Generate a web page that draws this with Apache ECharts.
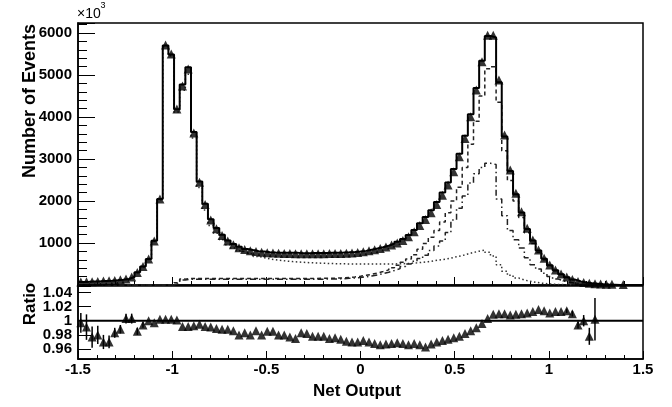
<!DOCTYPE html>
<html><head><meta charset="utf-8">
<script src="https://cdn.jsdelivr.net/npm/echarts@6/dist/echarts.min.js"></script>
<style>html,body{margin:0;padding:0;background:#fff}#c{width:672px;height:407px}</style>
</head><body><div id="c"></div>
<script>
// ---- binning ----
const binStart = -1.5, binWidth = 0.03, nBins = 100;
// ---- axis ticks ----
const xTickLabels = [-1.5, -1, -0.5, 0, 0.5, 1, 1.5];
const yTopMax = 6240;
// ---- data (triangles, top panel) ----
const dataEvents = [
  70, 75, 80, 85, 95, 100, 110, 125, 145, 190,
  300, 440, 620, 1050, 2050, 5714, 5500, 4190, 4738, 5143,
  3619, 2450, 1920, 1550, 1340, 1180, 1050, 960, 890, 845,
  815, 795, 780, 768, 760, 755, 750, 748, 746, 745,
  745, 745, 745, 746, 748, 750, 753, 757, 763, 772,
  790, 815, 840, 870, 905, 950, 1000, 1060, 1150, 1270,
  1420, 1560, 1720, 1920, 2140, 2380, 2698, 3056, 3492, 4008,
  4643, 5317, 5950, 5950, 4880, 3571, 2738, 2183, 1746, 1349,
  1071, 833, 635, 476, 357, 262, 190, 130, 85, 60,
  42, 30, 22, 18, 15, null, 12, null, null, null
];
// ---- ratio data/MC (bottom panel) ----
const ratioVals = [
  0.997, 0.991, 0.977, 0.980, 0.970, 0.970, 0.983, 0.988, 1.003, 1.003,
  0.985, 0.994, 1.000, 0.997, 1.002, 1.002, 1.002, 1.001, 0.992, 0.992,
  0.993, 0.995, 0.992, 0.991, 0.989, 0.988, 0.988, 0.986, 0.980, 0.983,
  0.980, 0.986, 0.980, 0.985, 0.985, 0.980, 0.980, 0.977, 0.975, 0.983,
  0.982, 0.978, 0.978, 0.978, 0.975, 0.976, 0.974, 0.971, 0.970, 0.970,
  0.972, 0.970, 0.968, 0.966, 0.967, 0.968, 0.969, 0.968, 0.966, 0.968,
  0.966, 0.963, 0.967, 0.970, 0.972, 0.974, 0.976, 0.978, 0.982, 0.986,
  0.990, 0.996, 1.003, 1.009, 1.010, 1.010, 1.008, 1.009, 1.010, 1.011,
  1.013, 1.016, 1.014, 1.011, 1.013, 1.013, 1.014, 1.010, 0.994, 1.000,
  0.978, 1.002, null, null, null, null, null, null, null, null
];
const ratioErr = [
  0.014, 0.018, 0.015, 0.013, 0.010, 0.009, 0.007, 0.006, 0.007, 0.007,
  0.005, 0.004, 0, 0, 0, 0, 0, 0, 0, 0,
  0, 0, 0, 0, 0, 0, 0, 0, 0, 0,
  0, 0, 0, 0, 0, 0, 0, 0, 0, 0,
  0, 0, 0, 0, 0, 0, 0, 0, 0, 0,
  0, 0, 0, 0, 0, 0, 0, 0, 0, 0,
  0, 0, 0, 0, 0, 0, 0, 0, 0, 0,
  0, 0, 0, 0, 0, 0, 0, 0, 0, 0,
  0, 0, 0, 0, 0, 0, 0.003, 0.004, 0.005, 0.008,
  0.012, 0.03, 0, 0, 0, 0, 0, 0, 0, 0
];
// ---- MC components ----
const bkgDotted = [
  68, 73, 78, 83, 92, 97, 107, 121, 143, 185,
  292, 430, 610, 1040, 2030, 5680, 5460, 4120, 4640, 5020,
  3500, 2320, 1786, 1420, 1230, 1080, 960, 880, 815, 770,
  735, 680, 650, 620, 600, 585, 570, 557, 548, 540,
  532, 525, 520, 515, 510, 507, 504, 502, 500, 500,
  500, 500, 500, 500, 500, 502, 505, 510, 518, 528,
  540, 555, 575, 597, 615, 640, 674, 700, 740, 775,
  805, 830, 780, 690, 480, 330, 230, 165, 120, 90,
  65, 45, 30, 20, 14, 9, 6, 4, 2, 0,
  0, 0, 0, 0, 0, 0, 0, 0, 0, 0
];
const sigDashed = [
  0, 0, 0, 0, 0, 0, 0, 0, 0, 0,
  0, 0, 0, 0, 0, 0, 0, 55, 140, 155,
  155, 155, 155, 155, 155, 155, 155, 155, 155, 155,
  155, 155, 155, 155, 155, 155, 155, 155, 155, 155,
  155, 155, 158, 160, 162, 165, 170, 178, 190, 208,
  230, 255, 285, 320, 360, 410, 470, 540, 620, 720,
  850, 990, 1140, 1300, 1500, 1720, 2000, 2330, 2800, 3350,
  3900, 4500, 5150, 5200, 4350, 3200, 2490, 2000, 1610, 1245,
  990, 780, 600, 455, 340, 250, 180, 125, 85, 58,
  40, 26, 16, 9, 5, 0, 0, 0, 0, 0
];
const sigDashDot = [
  0, 0, 0, 0, 0, 0, 0, 0, 0, 0,
  0, 0, 0, 0, 0, 0, 0, 45, 120, 135,
  135, 135, 135, 135, 135, 135, 135, 135, 135, 135,
  135, 135, 135, 135, 135, 135, 135, 135, 135, 135,
  135, 135, 137, 140, 142, 145, 150, 158, 168, 180,
  195, 215, 240, 270, 305, 345, 390, 440, 500, 565,
  630, 710, 820, 930, 1050, 1250, 1550, 1830, 2120, 2430,
  2650, 2800, 2900, 2870, 2050, 1650, 1300, 1080, 880, 650,
  480, 380, 280, 200, 140, 95, 65, 42, 28, 18,
  10, 5, 0, 0, 0, 0, 0, 0, 0, 0
];

// ---- derived ----
const edges = Array.from({length: nBins + 1}, (_, i) => +(binStart + i * binWidth).toFixed(4));
const centers = edges.slice(0, -1).map(e => +(e + binWidth / 2).toFixed(4));
// total MC = data / (data/MC)
const mcTotal = dataEvents.map((d, i) =>
  (d != null && ratioVals[i] != null) ? d / ratioVals[i] : (bkgDotted[i] + sigDashed[i]));
function histLine(vals) {
  const pts = [];
  for (let i = 0; i < nBins; i++) {
    const v = vals[i] == null ? 0 : vals[i];
    pts.push([edges[i], v], [edges[i + 1], v]);
  }
  return pts;
}
const dataPts = [];
dataEvents.forEach((v, i) => { if (v != null) dataPts.push([centers[i], v]); });
const ratioPts = [];
const errPts = [];
ratioVals.forEach((r, i) => {
  if (r != null) {
    ratioPts.push([centers[i], r]);
    if (ratioErr[i] > 0) errPts.push([centers[i], r, ratioErr[i]]);
  }
});

const FF = '"Liberation Sans", Arial, Helvetica, sans-serif';
const chart = echarts.init(document.getElementById('c'), null, {renderer: 'canvas'});
const axisLineS = {show: true, onZero: false, lineStyle: {color: '#000', width: 1.5}};
const tickS = {color: '#000', width: 1};
chart.setOption({
  animation: false,
  backgroundColor: '#fff',
  grid: [
    {left: 78, right: 29, top: 23, height: 262, show: true, borderColor: '#000', borderWidth: 1.5, backgroundColor: 'transparent'},
    {left: 78, right: 29, top: 286, height: 73, show: true, borderColor: '#000', borderWidth: 1.5, backgroundColor: 'transparent'}
  ],
  xAxis: [
    {gridIndex: 0, type: 'value', min: -1.5, max: 1.5, interval: 0.5,
     axisLine: axisLineS, axisTick: {inside: true, length: 8, lineStyle: tickS},
     minorTick: {show: true, splitNumber: 5, length: 4, lineStyle: tickS},
     axisLabel: {show: false}, splitLine: {show: false}},
    {gridIndex: 1, type: 'value', min: -1.5, max: 1.5, interval: 0.5,
     axisLine: axisLineS, axisTick: {inside: true, length: 8, lineStyle: tickS},
     minorTick: {show: true, splitNumber: 5, length: 4, lineStyle: tickS},
     axisLabel: {show: true, margin: 3, fontFamily: FF, fontWeight: 'bold', fontSize: 15, color: '#000',
       formatter: v => xTickLabels.some(t => Math.abs(t - v) < 1e-6) ? String(+v.toFixed(1)) : ''},
     splitLine: {show: false}}
  ],
  yAxis: [
    {gridIndex: 0, type: 'value', min: 0, max: yTopMax, interval: 1000, position: 'left',
     axisLine: axisLineS, axisTick: {inside: true, length: 17, lineStyle: tickS},
     axisLabel: {margin: 6, fontFamily: FF, fontWeight: 'bold', fontSize: 15, color: '#000',
       formatter: v => (v > 0 && v % 1000 === 0) ? String(v) : ''},
     splitLine: {show: false}},
    {gridIndex: 1, type: 'value', min: 0.946, max: 1.049, splitNumber: 5, position: 'left',
     axisLine: axisLineS, axisTick: {inside: true, length: 13, lineStyle: tickS},
     axisLabel: {margin: 6, fontFamily: FF, fontWeight: 'bold', fontSize: 15, color: '#000',
       formatter: v => Math.abs(v * 50 - Math.round(v * 50)) < 1e-6 ? String(+v.toFixed(2)) : ''},
     splitLine: {show: false}},
    {gridIndex: 0, type: 'value', min: 0, max: yTopMax, interval: 200, position: 'left', offset: 0,
     axisLine: {show: false, onZero: false}, axisTick: {inside: true, length: 9, lineStyle: tickS},
     axisLabel: {show: false}, splitLine: {show: false}}
  ],
  series: [
    {type: 'line', xAxisIndex: 0, yAxisIndex: 0, data: histLine(bkgDotted), symbol: 'none', z: 2,
     lineStyle: {color: '#333', width: 1.5, type: [1.5, 2.5]}},
    {type: 'line', xAxisIndex: 0, yAxisIndex: 0, data: histLine(sigDashDot), symbol: 'none', z: 2,
     lineStyle: {color: '#222', width: 1.5, type: [6, 3, 1.5, 3]}},
    {type: 'line', xAxisIndex: 0, yAxisIndex: 0, data: histLine(sigDashed), symbol: 'none', z: 2,
     lineStyle: {color: '#222', width: 1.5, type: [4, 3]}},
    {type: 'line', xAxisIndex: 0, yAxisIndex: 0, data: histLine(mcTotal), symbol: 'none', z: 3,
     lineStyle: {color: '#000', width: 2}},
    {type: 'scatter', xAxisIndex: 0, yAxisIndex: 0, data: dataPts, symbol: 'triangle', symbolSize: 9, z: 4,
     itemStyle: {color: '#000'}},
    {type: 'line', xAxisIndex: 1, yAxisIndex: 1, data: [[-1.5, 1], [1.5, 1]], symbol: 'none', z: 2,
     lineStyle: {color: '#000', width: 2}},
    {type: 'custom', xAxisIndex: 1, yAxisIndex: 1, data: errPts, z: 3,
     renderItem: (params, api) => {
       const x = api.value(0), y = api.value(1), e = api.value(2);
       const p1 = api.coord([x, y - e]), p2 = api.coord([x, y + e]);
       return {type: 'line', shape: {x1: p1[0], y1: p1[1], x2: p2[0], y2: p2[1]},
               style: {stroke: '#000', lineWidth: 1.5}};
     }},
    {type: 'scatter', xAxisIndex: 1, yAxisIndex: 1, data: ratioPts, symbol: 'triangle', symbolSize: 9, z: 4,
     itemStyle: {color: '#000'}}
  ],
  graphic: [
    {type: 'text', x: 30, y: 101, rotation: Math.PI / 2,
     style: {text: 'Number of Events', font: 'bold 18px ' + FF, fill: '#000', align: 'center', verticalAlign: 'middle'}},
    {type: 'text', x: 30, y: 304, rotation: Math.PI / 2,
     style: {text: 'Ratio', font: 'bold 17px ' + FF, fill: '#000', align: 'center', verticalAlign: 'middle'}},
    {type: 'text', x: 357, y: 391,
     style: {text: 'Net Output', font: 'bold 17px ' + FF, fill: '#000', align: 'center', verticalAlign: 'middle'}},
    {type: 'text', x: 77, y: 14,
     style: {text: '×10', font: '14px ' + FF, fill: '#000', align: 'left', verticalAlign: 'middle'}},
    {type: 'text', x: 100.5, y: 6,
     style: {text: '3', font: '9px ' + FF, fill: '#000', align: 'left', verticalAlign: 'middle'}}
  ]
});
</script>
</body></html>
